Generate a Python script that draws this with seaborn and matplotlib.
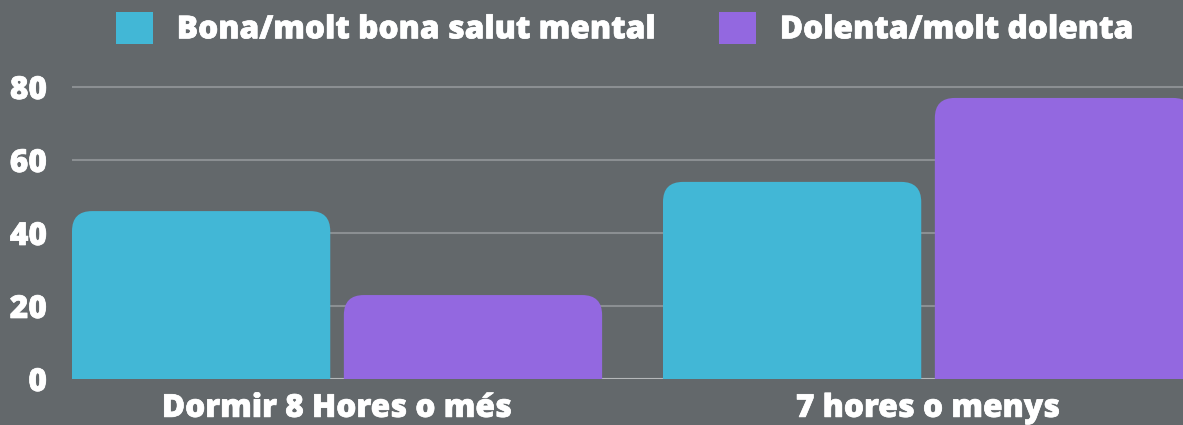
import matplotlib
matplotlib.use("Agg")
import matplotlib.pyplot as plt
from matplotlib.patches import FancyBboxPatch
import matplotlib.patheffects as pe
import seaborn as sns
import pandas as pd

categories = ["Dormir 8 Hores o més", "7 hores o menys"]
series_names = ["Bona/molt bona salut mental", "Dolenta/molt dolenta"]
bona = [46, 54]
dolenta = [23, 77]
yticks = [0, 20, 40, 60, 80]

BG = "#63686b"
COLORS = ["#42b7d6", "#9368e0"]

df = pd.DataFrame({
    "cat": categories * 2,
    "serie": [series_names[0]] * 2 + [series_names[1]] * 2,
    "val": bona + dolenta,
})

sns.set_theme(style="white")
plt.rcParams["font.family"] = ["Open Sans", "DejaVu Sans"]
plt.rcParams["font.weight"] = "bold"

W, H = 1183, 425
fig = plt.figure(figsize=(W / 100, H / 100), dpi=100, facecolor=BG)
ax = fig.add_axes([72 / W, 1 - 379 / H, 1 - 72 / W, (379 - 79.7) / H])
ax.set_facecolor(BG)

sns.barplot(data=df, x="cat", y="val", hue="serie", order=categories,
            hue_order=series_names, palette=COLORS, width=0.92, gap=0.05,
            saturation=1, ax=ax, legend=True, zorder=3)

ax.set_xlim(-0.4485, 1.4314)
ax.set_ylim(0, 82)

# rounded top corners
fig.canvas.draw()
px_x = ax.transData.transform((1, 0))[0] - ax.transData.transform((0, 0))[0]
px_y = ax.transData.transform((0, 1))[1] - ax.transData.transform((0, 0))[1]
r_px = 20
r = r_px / px_x
aspect = px_x / px_y
bars = [p for p in ax.patches if p.get_height() > 0 and p.get_width() > 0 and p.get_y() == 0]
for p in list(bars):
    x, y, w, h = p.get_x(), p.get_y(), p.get_width(), p.get_height()
    fc = p.get_facecolor()
    ext = r * aspect
    nb = FancyBboxPatch((x, y - ext), w, h + ext,
                        boxstyle=f"round,pad=0,rounding_size={r}",
                        mutation_aspect=aspect, facecolor=fc, edgecolor="none",
                        zorder=3, clip_on=True)
    ax.add_patch(nb)
    p.set_visible(False)

ax.set_yticks(yticks)
ax.yaxis.grid(True, color="#8b8f92", linewidth=1.5, zorder=0)
ax.set_axisbelow(True)
for s in ax.spines.values():
    s.set_visible(False)
ax.axhline(0, color="#b5b8ba", linewidth=1.5, zorder=2)

FS = 22.8
stroke = [pe.withStroke(linewidth=0.5, foreground="white")]

ax.set_xlabel("")
ax.set_ylabel("")
ax.tick_params(axis="both", length=0, colors="white", labelsize=FS)
ax.tick_params(axis="y", pad=18)
ax.tick_params(axis="x", pad=10)
for lab in ax.get_xticklabels() + ax.get_yticklabels():
    lab.set_fontweight("heavy")
    lab.set_path_effects(stroke)

handles, labels = ax.get_legend_handles_labels()
if ax.legend_:
    ax.legend_.remove()
for h in handles:
    h.set_edgecolor("none")
    h.set_linewidth(0)
leg = fig.legend(handles, labels, loc="center", bbox_to_anchor=(0.528, 1 - 29 / H),
                 ncol=2, frameon=False, handlelength=1.18, handleheight=1.18,
                 handletextpad=0.75, columnspacing=2.0,
                 prop={"size": FS, "weight": "heavy"})
for t in leg.get_texts():
    t.set_color("white")
    t.set_path_effects(stroke)
for h in leg.legend_handles:
    h.set_edgecolor("none")
    h.set_linewidth(0)

fig.savefig("out.png", dpi=100, facecolor=BG)
